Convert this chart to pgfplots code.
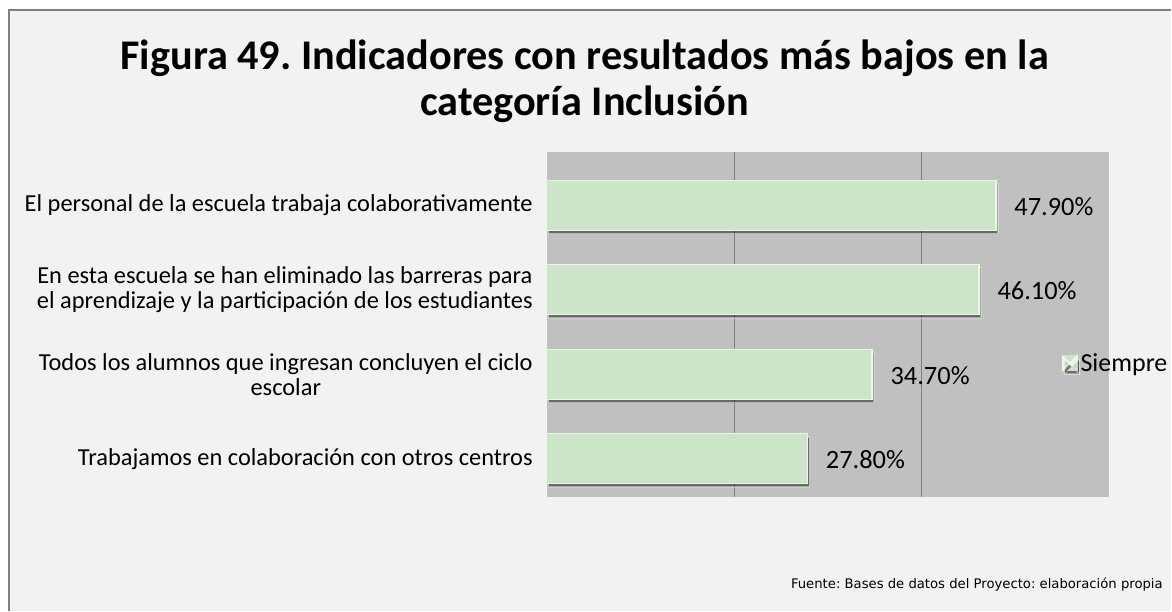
\documentclass[border=0pt]{standalone}
\usepackage{pgfplots}
\pgfplotsset{compat=1.18}
\usepackage{fontspec}
\setmainfont{Carlito}
\newfontfamily\foot{DejaVu Sans}
\usetikzlibrary{shadows}
\definecolor{barfill}{HTML}{CCE4C7}
\definecolor{baredge}{HTML}{EAF6E7}
\definecolor{panel}{HTML}{F2F2F2}
\definecolor{plotbg}{HTML}{C0C0C0}
\definecolor{gridc}{HTML}{808080}
\frenchspacing
\begin{document}
\begin{tikzpicture}
\fill[white] (0,0) rectangle (1172*0.75pt,-611*0.75pt);
\fill[panel] (9*0.75pt,-10*0.75pt) rectangle (1172*0.75pt,-611*0.75pt);
\draw[gridc, line width=0.9pt] (9*0.75pt,-611*0.75pt) -- (9*0.75pt,-10*0.75pt) -- (1172*0.75pt,-10*0.75pt);
\node[anchor=base, font=\bfseries\fontsize{31.7}{32.5}\selectfont] at (585*0.75pt,-70*0.75pt)
  {Figura 49. Indicadores con resultados más bajos en la};
\node[anchor=base, font=\bfseries\fontsize{31.7}{32.5}\selectfont] at (585*0.75pt,-116*0.75pt)
  {categoría Inclusión};
\begin{axis}[
  at={(547*0.75pt,-497*0.75pt)}, anchor=south west,
  width=563*0.75pt, height=345*0.75pt, scale only axis,
  xbar, y dir=reverse,
  xmin=0, xmax=60, ymin=-0.63, ymax=3.45,
  xtick={20,40}, xticklabels={}, xmajorgrids,
  grid style={gridc, line width=0.8pt},
  ytick={0,1,2,3},
  yticklabels={
    {El personal de la escuela trabaja colaborativamente},
    {En esta escuela se han eliminado las barreras para\\el aprendizaje y la participación de los estudiantes},
    {Todos los alumnos que ingresan concluyen el ciclo\\escolar},
    {Trabajamos en colaboración con otros centros}},
  yticklabel style={align=center, font=\fontsize{18.3}{18.75}\selectfont, xshift=-7pt},
  major tick length=0pt,
  axis line style={draw=none},
  axis background/.style={fill=plotbg},
  bar width=37.5pt,
  /pgf/number format/assume math mode=true,
  nodes near coords={\pgfmathprintnumber[fixed,fixed zerofill,precision=2]{\pgfplotspointmeta}\%},
  every node near coord/.append style={anchor=west, xshift=10pt, yshift=-1pt, font=\fontsize{19.8}{22}\selectfont, text=black},
  legend style={at={(0.915,0.387)}, anchor=west, draw=none, fill=none, font=\fontsize{19.5}{22}\selectfont, inner sep=0pt,
    legend cell align=left},
  legend image code/.code={\fill[barfill] (0pt,-5.5pt) rectangle (11pt,5.5pt);
     \fill[white,opacity=0.6] (0pt,-5.5pt) -- (5.5pt,0pt) -- (0pt,5.5pt) -- cycle;
     \fill[white,opacity=0.6] (11pt,-5.5pt) -- (5.5pt,0pt) -- (11pt,5.5pt) -- cycle;},
  clip=false,
]
\addplot[fill=barfill, draw=baredge, line width=1pt,
  drop shadow={shadow xshift=1.5pt, shadow yshift=-2.5pt, opacity=0.45, fill=black}]
  coordinates {(47.9,0) (46.1,1) (34.7,2) (27.8,3)};
\addlegendentry{Siempre}
\end{axis}
\node[anchor=east, font=\foot\fontsize{9.9}{12}\selectfont] at (1168*0.75pt,-585*0.75pt)
  {Fuente: Bases de datos del Proyecto: elaboración propia};
\end{tikzpicture}
\end{document}
